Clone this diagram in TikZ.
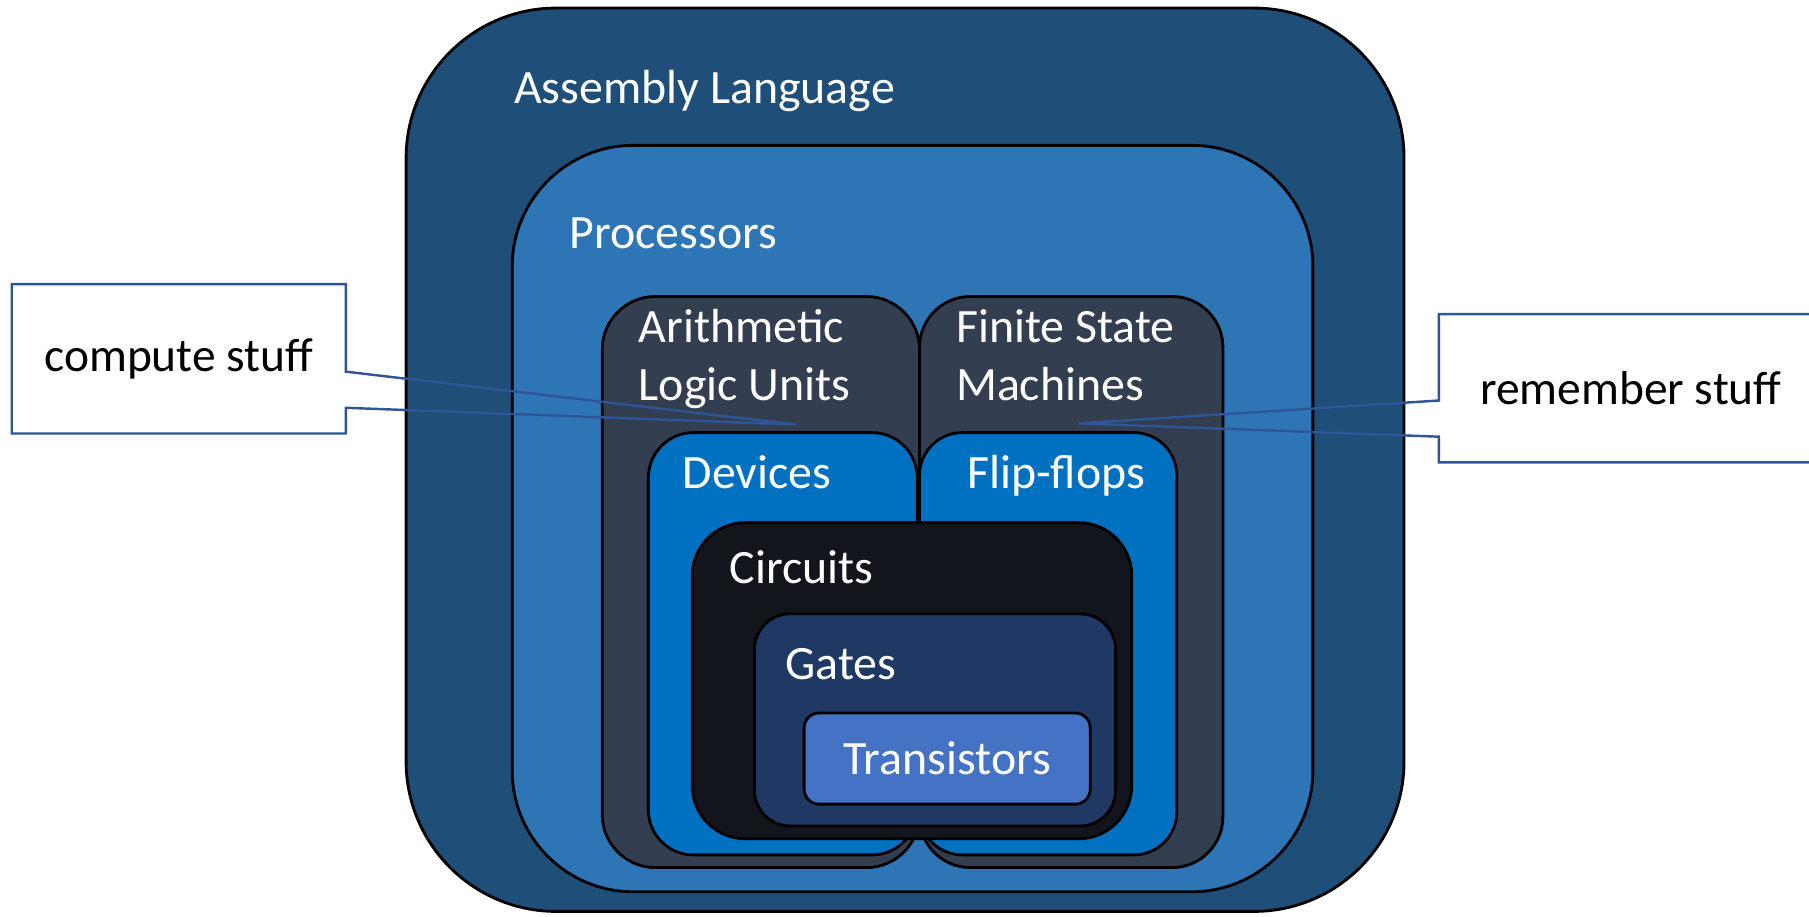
\documentclass[tikz,border=0pt]{standalone}
\usepackage{fontspec}
\setmainfont{Carlito}
\usepackage{xcolor}
\usetikzlibrary{calc}

\definecolor{asmblue}{HTML}{1F4E79}
\definecolor{procblue}{HTML}{2E75B6}
\definecolor{unitgray}{HTML}{333F50}
\definecolor{devblue}{HTML}{0070C0}
\definecolor{circblack}{HTML}{12161C}
\definecolor{gatenavy}{HTML}{203864}
\definecolor{transblue}{HTML}{4472C4}
\definecolor{calloutblue}{HTML}{2F5597}

\begin{document}
\begin{tikzpicture}[x=0.01cm, y=-0.01cm,
        layer/.style={draw=black, line width=0.7pt},
        lbl/.style={text=white, inner sep=0pt, anchor=base west, align=left,
            font=\fontsize{11.8}{14.3}\selectfont},
        callout/.style={fill=white, inner sep=0pt,
            font=\fontsize{11.7}{14}\selectfont},
        pointer/.style={draw=calloutblue, line width=0.6pt}]

        \useasboundingbox (0,0) rectangle (1568,794);

        % layers

        \draw[layer, fill=asmblue, rounded corners=1.3cm] (352,7) rectangle (1217,790); % asm
        \draw[layer, fill=procblue, rounded corners=1.05cm] (444,126) rectangle (1138,773); % proc

        \draw[layer, fill=unitgray, rounded corners=0.46cm] (522,257) rectangle (797,752); % ALU
        \draw[layer, fill=unitgray, rounded corners=0.44cm] (797,257) rectangle (1060,752); % FSM

        \draw[layer, fill=devblue, rounded corners=0.39cm] (562,375) rectangle (795,741); % dev
        \draw[layer, fill=devblue, rounded corners=0.37cm] (797,375) rectangle (1020,741); % FF

        \draw[layer, fill=circblack, rounded corners=0.46cm] (600,453) rectangle (981,727); % circ
        \draw[layer, fill=gatenavy, rounded corners=0.31cm] (654,532) rectangle (967,716); % gates
        \draw[layer, fill=transblue, rounded corners=0.13cm] (697,618) rectangle (945,697); % trans

        % labels

        \node[lbl] (asm) at (445,90) {Assembly Language};
        \node[lbl] (proc) at (493,215) {Processors};
        \node[lbl] (alu) at (553,347) {Arithmetic\\Logic Units};
        \node[lbl] (fsm) at (828,347) {Finite State\\Machines};
        \node[lbl] (dev) at (591,423) {Devices};
        \node[lbl] (ff) at (838,423) {Flip-flops};
        \node[lbl] (circ) at (632,506) {Circuits};
        \node[lbl] (gates) at (680,589) {Gates};
        \node[lbl, anchor=base] (trans) at (821,671) {Transistors};

        % callouts

        \node[callout, minimum width=2.88cm, minimum height=1.28cm] (compute) at (155,311) {compute stuff};
        \coordinate (alutip) at (690,368);
        \draw[pointer] ($(compute.north east)!0.586!(compute.south east)$) -- (alutip)
            -- ($(compute.north east)!0.828!(compute.south east)$) -- (compute.south east)
            -- (compute.south west) -- (compute.north west) -- (compute.north east) -- cycle;

        \node[callout, minimum width=3.31cm, minimum height=1.27cm] (remember) at (1413.5,336.5) {remember stuff};
        \coordinate (fsmtip) at (935,367);
        \draw[pointer] ($(remember.north west)!0.583!(remember.south west)$) -- (fsmtip)
            -- ($(remember.north west)!0.827!(remember.south west)$) -- (remember.south west)
            -- (remember.south east) -- (remember.north east) -- (remember.north west) -- cycle;

    \end{tikzpicture}
\end{document}
